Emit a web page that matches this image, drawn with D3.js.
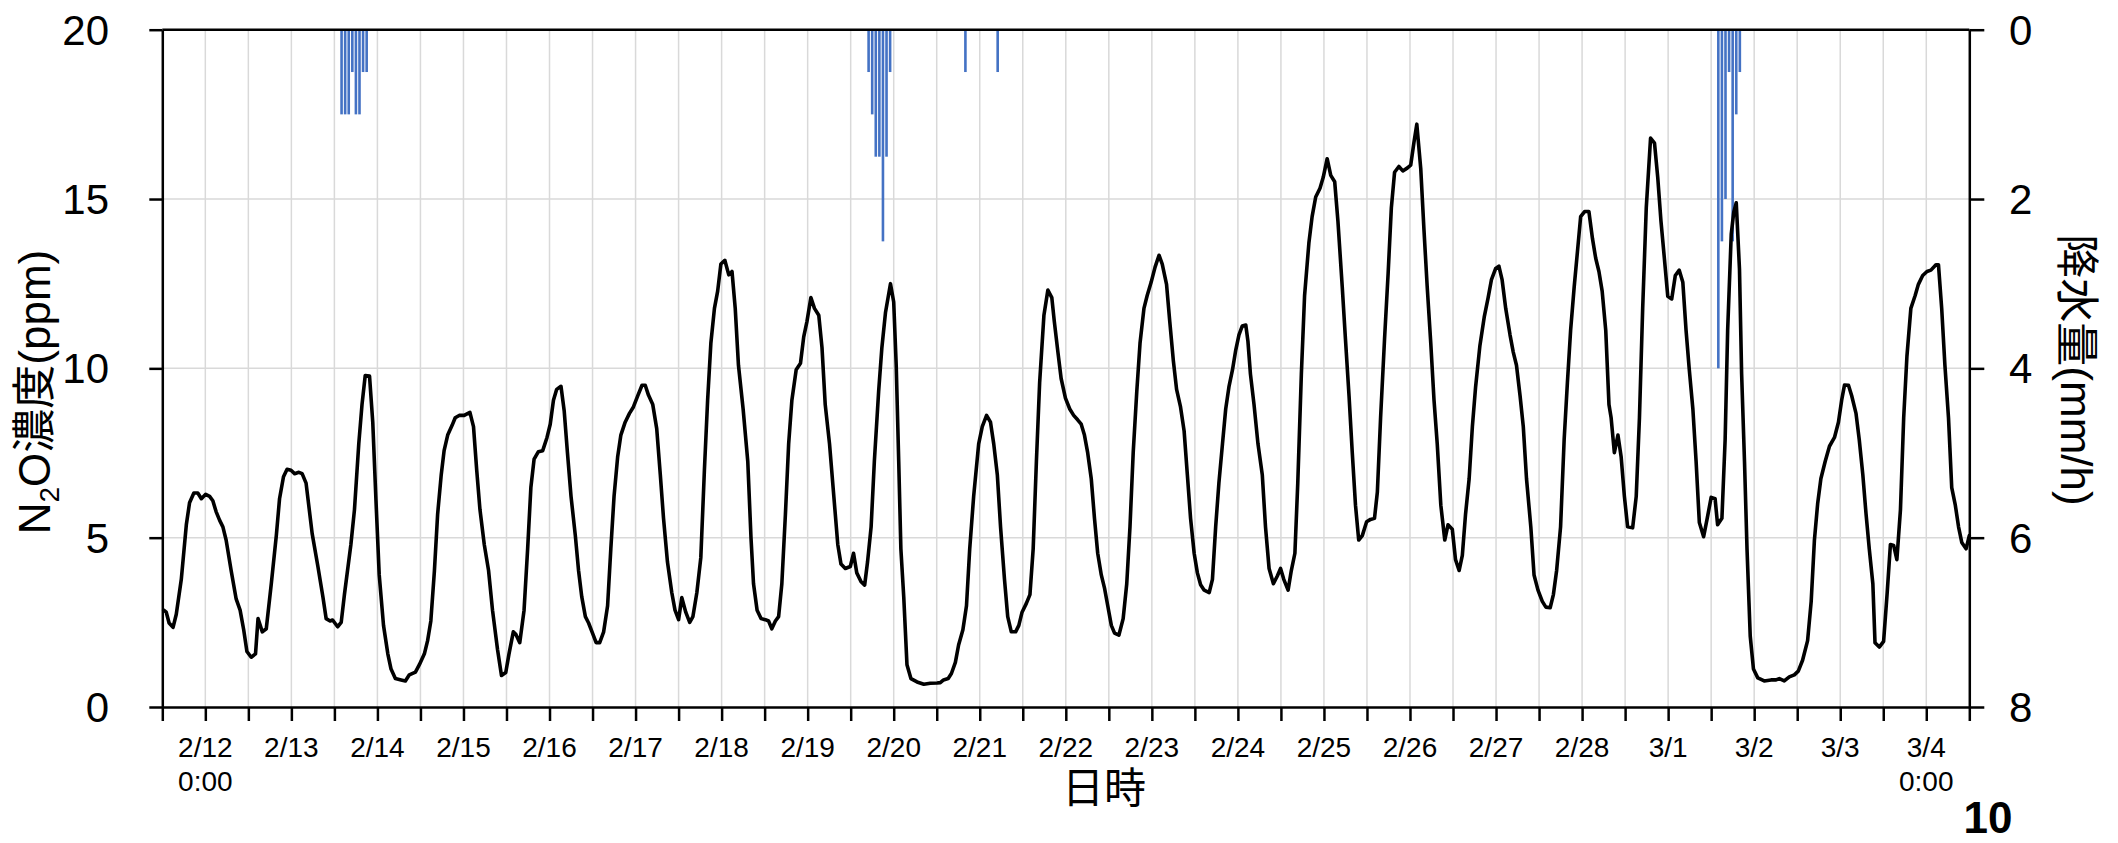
<!DOCTYPE html>
<html><head><meta charset="utf-8">
<script src="https://cdn.jsdelivr.net/npm/d3@7"></script>
<style>
body{margin:0;background:#fff}
svg{display:block}
text{font-family:"Liberation Sans",Arial,"Noto Sans CJK JP",sans-serif;fill:#000}
</style>
</head><body>
<svg id="chart" width="2118" height="843"></svg>
<script>
// ---- data (hours counted from 2/11 12:00) ----
const hours = [0.4,1.1,1.9,3.0,3.9,5.3,6.7,7.6,8.8,9.9,10.9,12.1,13.2,14.1,15.0,16.0,16.9,17.8,19.2,20.6,21.7,22.7,23.6,24.8,26.0,26.7,27.9,29.0,30.4,31.8,32.7,33.8,34.8,35.9,36.9,38.1,39.0,40.1,41.8,43.4,44.8,45.7,46.8,47.5,48.9,49.9,50.8,52.6,53.6,54.8,55.7,56.6,57.8,58.7,59.6,60.5,61.7,62.9,63.8,65.0,66.6,67.8,68.9,70.6,71.7,73.1,74.0,74.9,75.9,76.8,77.8,78.6,79.6,80.8,81.7,82.8,84.2,85.8,86.8,87.7,88.6,89.8,91.0,92.1,93.5,94.6,95.8,96.7,97.9,98.6,99.7,100.9,101.9,102.8,103.7,104.9,106.1,107.3,108.2,109.1,110.0,111.2,112.1,113.0,114.0,115.2,116.1,117.0,118.0,118.9,120.1,121.0,122.0,123.1,124.2,125.1,126.0,127.0,127.9,129.1,130.3,131.4,132.6,133.8,134.7,135.6,136.8,137.9,138.9,139.8,140.9,142.1,143.0,144.0,144.9,146.0,147.1,148.0,149.1,150.2,151.2,152.1,153.0,154.0,154.9,155.8,156.9,158.0,158.9,159.8,160.7,162.0,163.3,164.2,164.9,165.9,167.0,168.2,169.1,170.0,171.0,171.9,172.8,173.8,174.7,175.6,176.8,178.0,178.9,179.8,180.9,181.9,183.1,184.0,184.9,186.1,187.3,188.4,189.3,190.5,191.9,192.8,193.7,194.9,195.9,196.7,197.7,198.6,199.8,200.7,201.7,203.1,204.0,204.7,205.4,206.0,206.8,207.7,208.8,210.5,212.4,214.2,216.1,217.0,217.9,219.2,220.1,221.2,222.1,223.3,224.3,225.2,226.3,227.7,228.7,229.9,231.0,231.9,232.9,233.8,234.9,235.8,236.8,238.0,238.9,239.8,241.0,242.0,242.9,243.8,244.7,245.9,247.0,248.1,248.8,249.8,250.7,251.9,253.1,254.2,255.3,256.3,257.2,258.1,259.1,260.0,260.9,261.9,262.8,263.7,264.7,265.6,266.8,268.0,269.0,269.9,270.8,271.8,272.7,273.8,274.7,275.8,276.9,278.0,278.9,280.1,281.0,282.0,282.9,284.0,285.0,285.9,286.8,287.8,288.7,289.6,290.6,292.0,292.9,293.8,294.7,295.7,296.6,297.5,298.5,299.4,300.3,301.2,302.2,302.8,303.5,304.5,305.6,306.8,307.7,308.7,309.9,311.0,311.9,312.8,314.0,314.9,315.9,316.7,317.7,318.6,319.8,320.7,321.7,322.9,323.8,324.9,325.9,327.0,327.9,329.1,330.0,331.0,331.9,332.8,333.7,334.7,335.9,337.0,338.1,338.9,339.8,340.9,341.9,342.8,343.7,344.9,346.0,347.3,348.2,349.1,349.9,351.0,351.9,352.8,353.8,354.7,355.6,356.6,357.7,358.6,359.8,360.7,361.7,362.6,363.5,364.5,365.4,366.3,367.5,368.7,369.8,370.7,371.9,372.8,373.7,374.7,375.9,376.8,377.7,378.7,379.6,380.5,381.7,382.6,383.7,384.9,385.9,387.1,388.0,388.9,390.0,391.0,391.9,392.8,393.8,394.7,395.6,396.7,397.9,398.9,399.8,400.7,401.6,402.6,403.5,404.1,405.0,406.0,406.9,407.8,408.7,410.1,411.1,412.0,412.9,413.9,415.1,416.2,417.1,418.0,419.0,419.9,421.0,422.0,423.1,424.1,425.0,425.9,426.9,427.8,428.7,429.9,430.9,432.0,433.1,433.8,435.0,435.9,436.6,437.6,438.3,439.0,439.9,440.5,441.3,442.0,442.9,443.8,445.0,446.8,448.7,450.1,451.0,452.4,453.8,455.2,456.3,457.5,458.9,459.9,460.8,461.7,462.6,463.8,465.0,466.4,467.5,468.4,469.2,470.3,471.2,472.4,473.3,474.3,475.2,476.1,477.1,477.7,478.9,480.1,481.1,482.0,482.9,483.8,484.8,485.7,486.6,487.7,488.9,489.8,491.0,492.2,493.3,494.7,495.4,496.3,497.2,498.2,499.1,500.1,501.0,501.9,503.1,504.0];
const n2o = [2.86,2.80,2.48,2.35,2.74,3.77,5.38,6.03,6.32,6.32,6.15,6.28,6.22,6.09,5.77,5.51,5.32,4.93,4.03,3.19,2.86,2.28,1.64,1.47,1.57,2.61,2.22,2.31,3.64,5.06,6.15,6.80,7.02,6.99,6.89,6.93,6.89,6.61,5.12,4.15,3.25,2.61,2.54,2.57,2.37,2.50,3.32,4.80,5.83,7.77,8.93,9.79,9.77,8.41,6.09,3.90,2.41,1.57,1.12,0.84,0.80,0.77,0.95,1.03,1.25,1.57,1.96,2.54,4.03,5.70,6.86,7.57,8.03,8.31,8.54,8.61,8.61,8.70,8.28,6.99,5.83,4.80,4.03,2.86,1.70,0.93,1.02,1.57,2.22,2.15,1.90,2.86,4.67,6.48,7.32,7.54,7.57,7.96,8.35,9.06,9.38,9.47,8.74,7.51,6.22,5.06,4.03,3.25,2.67,2.48,2.15,1.90,1.90,2.22,2.99,4.67,6.22,7.38,8.03,8.41,8.67,8.86,9.19,9.50,9.50,9.21,8.93,8.22,6.86,5.57,4.28,3.38,2.86,2.58,3.23,2.80,2.50,2.67,3.38,4.41,6.99,9.06,10.74,11.77,12.28,13.08,13.19,12.76,12.86,11.77,10.09,8.80,7.25,4.99,3.64,2.86,2.61,2.58,2.54,2.31,2.54,2.67,3.64,5.70,7.77,9.06,9.96,10.15,10.93,11.38,12.09,11.77,11.57,10.61,8.93,7.77,6.22,4.80,4.22,4.09,4.15,4.54,3.96,3.70,3.60,4.28,5.32,7.25,9.32,10.61,11.64,12.50,11.96,10.09,7.25,4.67,3.25,1.25,0.84,0.74,0.67,0.70,0.71,0.72,0.80,0.84,0.99,1.32,1.83,2.28,2.99,4.67,6.22,7.77,8.28,8.61,8.41,7.77,6.86,5.32,3.77,2.67,2.22,2.22,2.41,2.80,3.06,3.32,4.67,7.25,9.57,11.57,12.31,12.09,11.38,10.48,9.70,9.12,8.80,8.61,8.48,8.35,8.03,7.51,6.74,5.57,4.54,3.90,3.51,2.99,2.41,2.18,2.12,2.61,3.64,5.32,7.51,9.32,10.74,11.77,12.15,12.54,12.99,13.34,13.08,12.48,11.38,10.22,9.38,8.86,8.15,6.86,5.57,4.54,3.96,3.61,3.45,3.38,3.77,5.32,6.61,7.77,8.80,9.45,9.96,10.54,10.99,11.25,11.28,10.80,9.83,8.93,7.77,6.86,5.32,4.09,3.64,3.87,4.09,3.77,3.45,4.03,4.54,6.61,9.83,12.15,13.70,14.48,15.06,15.32,15.64,16.19,15.70,15.51,14.35,12.41,10.86,9.19,7.51,5.96,4.93,5.06,5.47,5.54,5.57,6.35,8.54,10.86,12.80,14.74,15.79,15.96,15.83,15.92,16.00,16.67,17.21,15.90,14.09,12.41,10.74,9.06,7.77,5.96,4.93,5.38,5.25,4.35,4.03,4.48,5.70,6.74,8.28,9.45,10.67,11.51,12.09,12.61,12.95,13.02,12.61,11.77,10.99,10.48,10.09,9.19,8.28,6.74,5.32,3.90,3.45,3.12,2.95,2.93,3.32,4.03,5.32,7.90,9.57,11.12,12.41,13.44,14.48,14.63,14.63,13.83,13.25,12.86,12.28,11.12,8.93,8.54,7.51,8.03,7.38,6.22,5.32,5.29,6.22,8.54,11.77,14.74,16.80,16.65,15.64,14.35,13.19,12.13,12.05,12.74,12.90,12.54,11.12,9.96,8.80,7.25,5.45,5.03,5.57,6.19,6.15,5.38,5.57,7.90,11.12,13.96,14.61,14.89,12.93,9.83,7.25,4.67,2.09,1.12,0.86,0.77,0.80,0.80,0.84,0.77,0.89,0.95,1.06,1.38,1.96,3.12,4.93,6.00,6.74,7.25,7.70,7.96,8.41,9.06,9.51,9.50,9.19,8.67,7.90,6.86,5.70,4.67,3.64,1.90,1.77,1.94,3.38,4.80,4.77,4.35,5.83,8.54,10.35,11.77,12.15,12.48,12.74,12.86,12.90,13.06,13.06,11.77,10.09,8.54,6.48,5.96,5.32,4.86,4.67,5.06];
const rainHours  = [50,51,52,53,54,55,56,57,197,198,199,200,201,202,203,224,233,434,435,436,437,438,439,440];
const rainValues = [1.0,1.0,1.0,0.5,1.0,1.0,0.5,0.5,0.5,1.0,1.5,1.5,2.5,1.5,0.5,0.5,0.5,4.0,2.5,2.0,0.5,2.5,1.0,0.5];
const leftTicks  = [0,5,10,15,20];
const rightTicks = [0,2,4,6,8];
const dayLabels  = ["2/12","2/13","2/14","2/15","2/16","2/17","2/18","2/19","2/20","2/21","2/22","2/23","2/24","2/25","2/26","2/27","2/28","3/1","3/2","3/3","3/4"];
const dayHours   = [12,36,60,84,108,132,156,180,204,228,252,276,300,324,348,372,396,420,444,468,492];
const gridHours  = d3.range(0, 505, 12);

// ---- layout ----
const L = 162.3, R = 1969.3, T = 29.7, B = 707;
const svg = d3.select("#chart");
const x  = d3.scaleLinear().domain([0, 504]).range([L, R]);
const y  = d3.scaleLinear().domain([0, 20]).range([B, T]);
const y2 = d3.scaleLinear().domain([0, 8]).range([T, B]);

// grid
const grid = svg.append("g").attr("stroke", "#d9d9d9").attr("stroke-width", 1.5);
grid.selectAll("line.v").data(gridHours.slice(1, -1)).join("line")
  .attr("x1", d => x(d)).attr("x2", d => x(d)).attr("y1", T).attr("y2", B);
grid.selectAll("line.h").data([5, 10, 15]).join("line")
  .attr("x1", L).attr("x2", R).attr("y1", d => y(d)).attr("y2", d => y(d));

// rain bars
svg.append("g").selectAll("rect").data(rainHours).join("rect")
  .attr("x", d => x(d) - 1.3).attr("width", 2.6)
  .attr("y", T).attr("height", (d, i) => y2(rainValues[i]) - T)
  .attr("fill", "#4472C4");

// N2O line
const pts = hours.map((h, i) => [h, n2o[i]]);
svg.append("path").datum(pts)
  .attr("fill", "none").attr("stroke", "#000").attr("stroke-width", 3.6)
  .attr("stroke-linejoin", "round").attr("stroke-linecap", "round")
  .attr("d", d3.line().x(d => x(d[0])).y(d => y(d[1])));

// axes
function styleAxis(g){
  g.selectAll("path.domain").attr("stroke", "#000").attr("stroke-width", 2.5);
  g.selectAll(".tick line").attr("stroke", "#000").attr("stroke-width", 2.5);
  g.selectAll(".tick text").remove();
}
svg.append("g").attr("transform", `translate(0,${B})`)
  .call(d3.axisBottom(x).tickValues(gridHours).tickSize(14).tickSizeOuter(0)).call(styleAxis);
svg.append("g").attr("transform", `translate(${L},0)`)
  .call(d3.axisLeft(y).tickValues(leftTicks).tickSize(13).tickSizeOuter(0)).call(styleAxis);
svg.append("g").attr("transform", `translate(${R},0)`)
  .call(d3.axisRight(y2).tickValues(rightTicks).tickSize(15).tickSizeOuter(0)).call(styleAxis);
svg.append("line").attr("x1", L).attr("x2", R).attr("y1", T).attr("y2", T)
  .attr("stroke", "#000").attr("stroke-width", 2.5);

// tick labels
svg.append("g").selectAll("text").data(leftTicks).join("text")
  .attr("x", 109).attr("y", d => y(d) + 15).attr("text-anchor", "end")
  .attr("font-size", 42).text(d => d);
svg.append("g").selectAll("text").data(rightTicks).join("text")
  .attr("x", 2009).attr("y", d => y2(d) + 15).attr("text-anchor", "start")
  .attr("font-size", 42).text(d => d);
svg.append("g").selectAll("text").data(dayLabels).join("text")
  .attr("x", (d, i) => x(dayHours[i])).attr("y", 757).attr("text-anchor", "middle")
  .attr("font-size", 28).text(d => d);
[0, dayLabels.length - 1].forEach(i => {
  svg.append("text").attr("x", x(dayHours[i])).attr("y", 791)
    .attr("text-anchor", "middle").attr("font-size", 28).text("0:00");
});

// titles
const lt = svg.append("text").attr("transform", "translate(50,392) rotate(-90)")
  .attr("text-anchor", "middle").attr("font-size", 44);
lt.append("tspan").text("N");
lt.append("tspan").attr("font-size", 28).attr("dy", 9).text("2");
lt.append("tspan").attr("dy", -9).text("O濃度(ppm)");

svg.append("text").attr("transform", "translate(2061,370) rotate(90)")
  .attr("text-anchor", "middle").attr("font-size", 44).text("降水量(mm/h)");

svg.append("text").attr("x", 1104).attr("y", 803).attr("text-anchor", "middle")
  .attr("font-size", 42).text("日時");

svg.append("text").attr("x", 1988).attr("y", 833).attr("text-anchor", "middle")
  .attr("font-size", 44).attr("font-weight", "bold").text("10");
</script>
</body></html>
